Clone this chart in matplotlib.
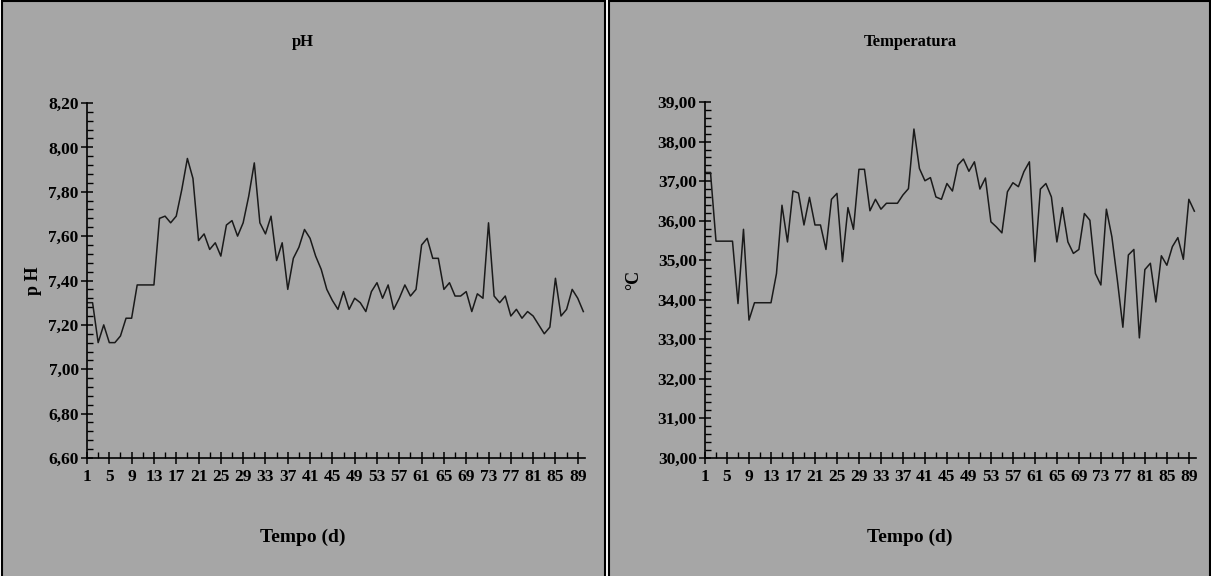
import matplotlib
matplotlib.use('Agg')
import matplotlib.pyplot as plt
from matplotlib.patches import Rectangle
from matplotlib.ticker import MultipleLocator, FixedLocator, FuncFormatter

plt.rcParams['font.family'] = ['Liberation Serif', 'DejaVu Serif']
plt.rcParams['font.weight'] = 'bold'

# dias 1..90
dias = list(range(1, 91))

ph = [7.30, 7.30, 7.12, 7.20, 7.12, 7.12, 7.15, 7.23, 7.23, 7.38,
      7.38, 7.38, 7.38, 7.68, 7.69, 7.66, 7.69, 7.81, 7.95, 7.86,
      7.58, 7.61, 7.54, 7.57, 7.51, 7.65, 7.67, 7.60, 7.66, 7.78,
      7.93, 7.66, 7.61, 7.69, 7.49, 7.57, 7.36, 7.50, 7.55, 7.63,
      7.59, 7.51, 7.45, 7.36, 7.31, 7.27, 7.35, 7.27, 7.32, 7.30,
      7.26, 7.35, 7.39, 7.32, 7.38, 7.27, 7.32, 7.38, 7.33, 7.36,
      7.56, 7.59, 7.50, 7.50, 7.36, 7.39, 7.33, 7.33, 7.35, 7.26,
      7.34, 7.32, 7.66, 7.33, 7.30, 7.33, 7.24, 7.27, 7.23, 7.26,
      7.24, 7.20, 7.16, 7.19, 7.41, 7.24, 7.27, 7.36, 7.32, 7.26]

temp = [37.22, 37.22, 35.48, 35.48, 35.48, 35.48, 33.90, 35.78, 33.48, 33.92,
        33.92, 33.92, 33.92, 34.66, 36.39, 35.46, 36.75, 36.70, 35.89, 36.59,
        35.89, 35.89, 35.27, 36.54, 36.69, 34.96, 36.33, 35.78, 37.30, 37.30,
        36.25, 36.54, 36.29, 36.44, 36.44, 36.44, 36.65, 36.81, 38.32, 37.32,
        37.01, 37.09, 36.60, 36.54, 36.94, 36.75, 37.41, 37.56, 37.25, 37.49,
        36.80, 37.08, 35.97, 35.84, 35.69, 36.73, 36.96, 36.86, 37.24, 37.49,
        34.96, 36.80, 36.94, 36.60, 35.46, 36.33, 35.46, 35.17, 35.27, 36.18,
        36.01, 34.66, 34.37, 36.29, 35.59, 34.49, 33.30, 35.13, 35.27, 33.03,
        34.76, 34.92, 33.94, 35.11, 34.87, 35.34, 35.57, 35.02, 36.54, 36.24]

xticks = list(range(1, 91, 4))

fig = plt.figure(figsize=(12.11, 5.76), dpi=100)
fig.patch.set_facecolor('white')

# paineis cinzentos com borda
for x0, w in [(1.5, 603), (608.5, 601)]:
    fig.patches.append(Rectangle((x0 / 1211, -0.02), w / 1211, 1.018,
                                 transform=fig.transFigure, facecolor='#a6a6a6',
                                 edgecolor='black', lw=1.5, zorder=-5))


def virgula(v, pos):
    return f'{v:.2f}'.replace('.', ',')


def painel(rect, y, ymin, ymax, major, minor, titulo, ylab, ylab_x, cx):
    ax = fig.add_axes(rect)
    ax.patch.set_alpha(0)
    ax.plot(dias, y, color='#1a1a1a', lw=1.1)
    ax.set_xlim(1, 90.3)
    ax.set_ylim(ymin, ymax)
    ax.spines['top'].set_visible(False)
    ax.spines['right'].set_visible(False)
    for s in ['left', 'bottom']:
        ax.spines[s].set_linewidth(1.2)
    ax.yaxis.set_major_locator(MultipleLocator(major))
    ax.yaxis.set_minor_locator(MultipleLocator(minor))
    ax.yaxis.set_major_formatter(FuncFormatter(virgula))
    ax.xaxis.set_major_locator(FixedLocator(xticks))
    ax.xaxis.set_minor_locator(FixedLocator(list(range(3, 91, 4))))
    ax.tick_params(which='major', direction='inout', length=8, width=1.1,
                   labelsize=12.5, pad=2)
    ax.tick_params(which='minor', direction='in', length=4, width=1.0)
    ax.tick_params(axis='x', which='major', pad=4)
    for lb in ax.get_xticklabels() + ax.get_yticklabels():
        lb.set_fontweight('bold')
    fig.text(cx / 1211, 1 - 42 / 576, titulo, ha='center', va='center',
             fontsize=12, fontweight='bold')
    fig.text(ylab_x / 1211, rect[1] + rect[3] / 2, ylab, ha='center',
             va='center', rotation=90, fontsize=13, fontweight='bold')
    fig.text(cx / 1211, 1 - 537 / 576, 'Tempo (d)', ha='center', va='center',
             fontsize=14, fontweight='bold')
    return ax


painel([87 / 1211, 118 / 576, 498 / 1211, 355 / 576], ph, 6.6, 8.2, 0.2, 0.04,
       'pH', 'p H', 33, 303)
painel([705 / 1211, 118.5 / 576, 491 / 1211, 355.3 / 576], temp, 30, 39, 1, 0.2,
       'Temperatura', '°C', 634, 910)

fig.savefig('out.png', dpi=100)
